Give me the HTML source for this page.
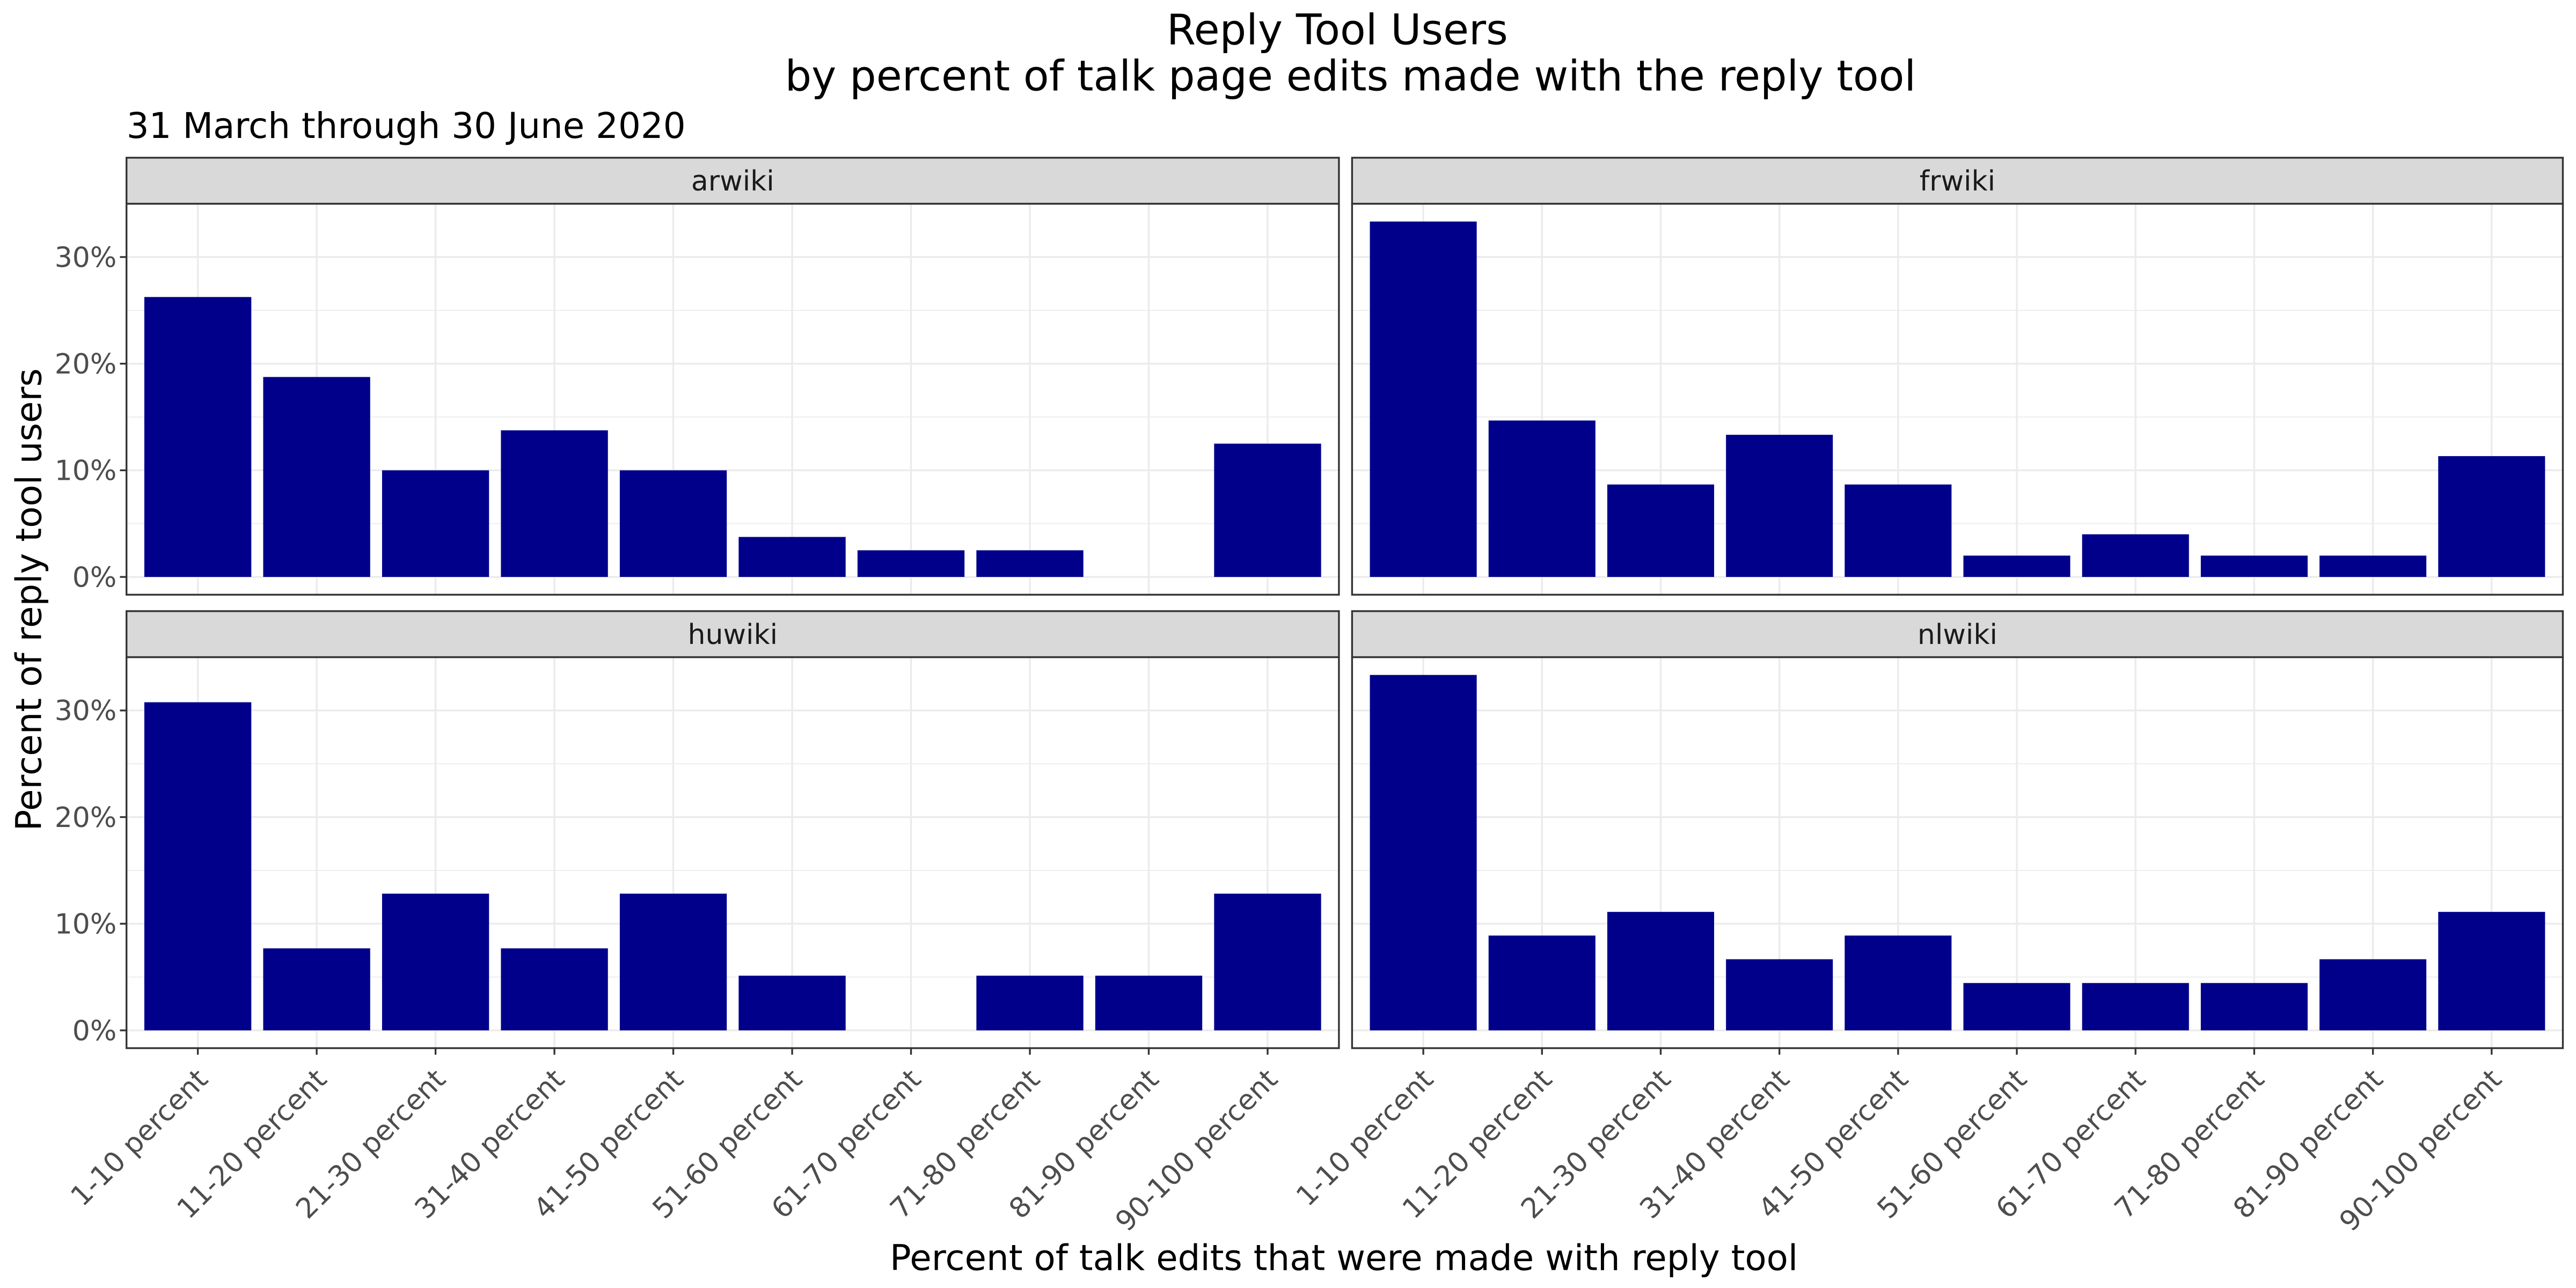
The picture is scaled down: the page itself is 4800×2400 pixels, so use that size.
<!DOCTYPE html>
<html><head><meta charset="utf-8"><style>
html,body{margin:0;padding:0;background:#fff;}
svg{display:block;font-family:"DejaVu Sans","Liberation Sans",sans-serif;}
</style></head><body>
<svg id="chart" width="4800" height="2400" viewBox="0 0 1568 784" xmlns="http://www.w3.org/2000/svg">
<rect width="1568" height="784" fill="#fff"/>
<text x="814" y="27" font-size="25.5" text-anchor="middle" fill="#000">Reply Tool Users</text>
<text x="822" y="55" font-size="25.5" text-anchor="middle" fill="#000">by percent of talk page edits made with the reply tool</text>
<text x="77" y="84" font-size="21.5" fill="#000">31 March through 30 June 2020</text>
<text x="818" y="773" font-size="21.5" text-anchor="middle" fill="#000">Percent of talk edits that were made with reply tool</text>
<text transform="translate(25,365) rotate(-90)" font-size="21.5" text-anchor="middle" fill="#000">Percent of reply tool users</text>
<g id="panels"></g>
</svg>
<script>
const categories = ["1-10 percent","11-20 percent","21-30 percent","31-40 percent","41-50 percent","51-60 percent","61-70 percent","71-80 percent","81-90 percent","90-100 percent"];
const facetNames = ["arwiki","frwiki","huwiki","nlwiki"];
const arwikiValues = [26.25,18.75,10,13.75,10,3.75,2.5,2.5,0,12.5];
const frwikiValues = [33.33,14.67,8.67,13.33,8.67,2,4,2,2,11.33];
const huwikiValues = [30.77,7.69,12.82,7.69,12.82,5.13,0,5.13,5.13,12.82];
const nlwikiValues = [33.33,8.89,11.11,6.67,8.89,4.44,4.44,4.44,6.67,11.11];
const yTicks = [0,10,20,30];
const yTickLabels = ["0%","10%","20%","30%"];
const yMinor = [5,15,25];

const NS = "http://www.w3.org/2000/svg";
const root = document.getElementById("panels");
const seriesList = [arwikiValues, frwikiValues, huwikiValues, nlwikiValues];
const layout = [
  {x0:77,x1:815,stripTop:96,y0:124,y1:362},
  {x0:823,x1:1560,stripTop:96,y0:124,y1:362},
  {x0:77,x1:815,stripTop:372,y0:400,y1:638},
  {x0:823,x1:1560,stripTop:372,y0:400,y1:638}
];
const yLo = -1.667, yHi = 35;
function mk(tag, attrs, parent){
  const e = document.createElementNS(NS, tag);
  for (const k in attrs) e.setAttribute(k, attrs[k]);
  parent.appendChild(e);
  return e;
}
layout.forEach((L, p) => {
  const g = mk("g", {}, root);
  
  
  const n = categories.length;
  const step = (L.x1 - L.x0) / (n + 0.2);
  const xs = i => L.x0 + step * (0.6 + i);
  const ys = v => L.y1 - (v - yLo) / (yHi - yLo) * (L.y1 - L.y0);
  yMinor.forEach(v => {
    const l = mk("line", {x1:L.x0, x2:L.x1, y1:ys(v), y2:ys(v), stroke:"#ebebeb", "stroke-width":0.55}, g);
    
    
  });
  yTicks.forEach(v => {
    const l = mk("line", {x1:L.x0, x2:L.x1, y1:ys(v), y2:ys(v), stroke:"#ebebeb", "stroke-width":1.1}, g);
    
    
  });
  categories.forEach((c, i) => {
    const l = mk("line", {x1:xs(i), x2:xs(i), y1:L.y0, y2:L.y1, stroke:"#ebebeb", "stroke-width":1.1}, g);
    
    
  });
  const vals = seriesList[p];
  vals.forEach((v, i) => {
    const w = step * 0.9;
    const r = mk("rect", {x:xs(i) - w/2, y:ys(v), width:w, height:Math.max(0, ys(0) - ys(v)), fill:"#00008b"}, g);
    
    
  });
  const border = mk("rect", {x:L.x0, y:L.y0, width:L.x1-L.x0, height:L.y1-L.y0, fill:"none", stroke:"#333", "stroke-width":1.1}, g);
  
  
  const strip = mk("rect", {x:L.x0, y:L.stripTop, width:L.x1-L.x0, height:L.y0-L.stripTop, fill:"#d9d9d9", stroke:"#333", "stroke-width":1.1}, g);
  
  
  const st = mk("text", {x:(L.x0+L.x1)/2, y:L.stripTop+20, "font-size":17, "text-anchor":"middle", fill:"#1a1a1a"}, g);
  st.textContent = facetNames[p];
  
  
  if (p % 2 === 0) {
    yTicks.forEach((v, k) => {
      const t = mk("line", {x1:L.x0-4, x2:L.x0, y1:ys(v), y2:ys(v), stroke:"#333", "stroke-width":1.1}, g);
      
      
      const lb = mk("text", {x:L.x0-6, y:ys(v)+6, "font-size":17, "text-anchor":"end", fill:"#4d4d4d"}, g);
      lb.textContent = yTickLabels[k];
      
      
    });
  }
  if (p >= 2) {
    categories.forEach((c, i) => {
      const t = mk("line", {x1:xs(i), x2:xs(i), y1:L.y1, y2:L.y1+4, stroke:"#333", "stroke-width":1.1}, g);
      
      
      const lb = mk("text", {transform:"translate(" + (xs(i)+7) + "," + (L.y1+20) + ") rotate(-45)", "font-size":17, "text-anchor":"end", fill:"#4d4d4d"}, g);
      lb.textContent = c;
      
      
    });
  }
});
</script>
</body></html>
